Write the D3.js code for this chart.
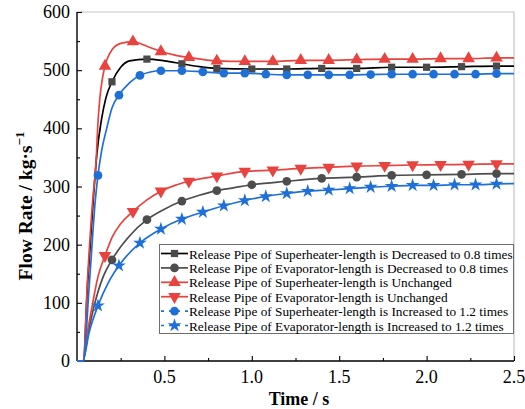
<!DOCTYPE html>
<html>
<head>
<meta charset="utf-8">
<script src="https://cdn.jsdelivr.net/npm/d3@7"></script>
<style>
    body { margin: 0; background: #fff; }
    svg { display: block; font-family: "Liberation Serif", "Times New Roman", serif; }
</style>
</head>
<body>
<svg width="525" height="409"></svg>
<script>

// time (s) and flow rate (kg/s), one pair of arrays per case
var tA = [0, 0.036, 0.06, 0.093, 0.115, 0.14, 0.165, 0.2, 0.25, 0.3, 0.4, 0.5, 0.6, 0.7, 0.8, 1.0, 1.2, 1.4, 1.6, 1.8, 2.0, 2.2, 2.4, 2.5];
var vA = [0, 0, 130, 277, 360, 415, 452, 480, 505, 516, 519, 516, 511, 506, 503, 502, 502, 503, 503, 505, 505, 506, 507, 507];

var tB = [0, 0.033, 0.065, 0.1, 0.15, 0.2, 0.3, 0.4, 0.5, 0.6, 0.7, 0.8, 0.9, 1.0, 1.2, 1.4, 1.6, 1.8, 2.0, 2.2, 2.4, 2.5];
var vB = [0, 0, 50, 97, 145, 174, 215, 243, 261, 275, 285, 293, 298, 303, 309, 314, 316, 319, 320, 321, 322, 322];

var tC = [0, 0.036, 0.06, 0.09, 0.11, 0.118, 0.13, 0.145, 0.16, 0.2, 0.25, 0.32, 0.4, 0.48, 0.56, 0.64, 0.8, 0.96, 1.12, 1.28, 1.44, 1.6, 1.76, 1.92, 2.08, 2.24, 2.4, 2.5];
var vC = [0, 0, 140, 277, 347, 400, 450, 485, 507, 535, 546, 549, 541, 532, 526, 522, 516, 515, 515, 517, 517, 518, 519, 519, 520, 520, 521, 521];

var tD = [0, 0.033, 0.06, 0.09, 0.12, 0.16, 0.2, 0.25, 0.32, 0.4, 0.48, 0.56, 0.64, 0.8, 0.96, 1.12, 1.28, 1.44, 1.6, 1.76, 1.92, 2.08, 2.24, 2.4, 2.5];
var vD = [0, 0, 50, 100, 145, 181, 212, 236, 257, 277, 292, 302, 309, 318, 326, 328, 331, 333, 335, 336, 337, 337.5, 338, 339, 339];

var tE = [0, 0.036, 0.07, 0.105, 0.12, 0.14, 0.17, 0.2, 0.24, 0.3, 0.36, 0.48, 0.6, 0.72, 0.84, 0.96, 1.08, 1.2, 1.32, 1.44, 1.56, 1.68, 1.8, 1.92, 2.04, 2.16, 2.28, 2.4, 2.5];
var vE = [0, 0, 130, 277, 319, 360, 400, 435, 457, 478, 491, 499, 499, 497, 495, 495, 493, 492, 492, 492, 492, 492.5, 493, 493, 493, 493, 493, 494, 494];

var tF = [0, 0.033, 0.07, 0.12, 0.18, 0.24, 0.36, 0.48, 0.6, 0.72, 0.84, 0.96, 1.08, 1.2, 1.32, 1.44, 1.56, 1.68, 1.8, 1.92, 2.04, 2.16, 2.28, 2.4, 2.5];
var vF = [0, 0, 50, 95, 135, 164, 203, 227, 244, 256, 267, 276, 283, 288, 292, 294, 296.5, 299, 300.5, 302, 302, 303, 303, 304.5, 305];

// times where a symbol is drawn
var markAB = [0.2, 0.4, 0.6, 0.8, 1.0, 1.2, 1.4, 1.6, 1.8, 2.0, 2.2, 2.4];
var markCD = [0.16, 0.32, 0.48, 0.64, 0.8, 0.96, 1.12, 1.28, 1.44, 1.6, 1.76, 1.92, 2.08, 2.24, 2.4];
var markEF = [0.12, 0.24, 0.36, 0.48, 0.6, 0.72, 0.84, 0.96, 1.08, 1.2, 1.32, 1.44, 1.56, 1.68, 1.8, 1.92, 2.04, 2.16, 2.28, 2.4];

var legendNames = [
    "Release Pipe of Superheater-length is Decreased to 0.8 times",
    "Release Pipe of Evaporator-length is Decreased to 0.8 times",
    "Release Pipe of Superheater-length is Unchanged",
    "Release Pipe of Evaporator-length is Unchanged",
    "Release Pipe of Superheater-length is Increased to 1.2 times",
    "Release Pipe of Evaporator-length is Increased to 1.2 times"
];

var xTicks = [0.5, 1.0, 1.5, 2.0, 2.5];
var yTicks = [0, 100, 200, 300, 400, 500, 600];

var red = "#e8433f", blue = "#1f6fd9";
var series = [
    {t: tA, v: vA, marks: markAB, line: "#000", fill: "#4a4a4a", sym: d3.symbolSquare, size: 52, rot: 0, dash: null},
    {t: tB, v: vB, marks: markAB, line: "#4d4d4d", fill: "#4d4d4d", sym: d3.symbolCircle, size: 60, rot: 0, dash: null},
    {t: tC, v: vC, marks: markCD, line: red, fill: red, sym: d3.symbolTriangle, size: 68, rot: 0, dash: null},
    {t: tD, v: vD, marks: markCD, line: red, fill: red, sym: d3.symbolTriangle, size: 68, rot: 180, dash: null},
    {t: tE, v: vE, marks: markEF, line: blue, fill: blue, sym: d3.symbolCircle, size: 60, rot: 0, dash: "3,5"},
    {t: tF, v: vF, marks: markEF, line: blue, fill: blue, sym: d3.symbolStar, size: 58, rot: 0, dash: "3,5"}
];

var svg = d3.select("svg");
var pLeft = 77, pRight = 514, pTop = 12, pBottom = 361;

var x = d3.scaleLinear().domain([0, 2.5]).range([pLeft, pRight]);
var y = d3.scaleLinear().domain([0, 600]).range([pBottom, pTop]);

// light frame on top and right
svg.append("path")
    .attr("d", "M" + pLeft + "," + pTop + "H" + pRight + "V" + pBottom)
    .attr("fill", "none")
    .attr("stroke", "#c4c4c4")
    .attr("stroke-width", 1.2);

// axes with inward ticks
var gx = svg.append("g").attr("transform", "translate(0," + pBottom + ")");
gx.append("g").call(d3.axisTop(x).tickValues(d3.range(0.25, 2.5, 0.5)).tickSize(3).tickFormat(""));
gx.append("g").call(d3.axisTop(x).tickValues(xTicks).tickSize(5).tickFormat(""));
gx.selectAll("path.domain").remove();
gx.append("line").attr("x1", pLeft).attr("x2", pRight).attr("stroke", "#000").attr("stroke-width", 1.4);

var gy = svg.append("g").attr("transform", "translate(" + pLeft + ",0)");
gy.append("g").call(d3.axisRight(y).tickValues(d3.range(50, 600, 100)).tickSize(3).tickFormat(""));
gy.append("g").call(d3.axisRight(y).tickValues(yTicks).tickSize(5).tickFormat(""));
gy.selectAll("path.domain").remove();
gy.append("line").attr("y1", pTop).attr("y2", pBottom).attr("stroke", "#000").attr("stroke-width", 1.4);
svg.selectAll(".tick line").attr("stroke", "#000").attr("stroke-width", 1.1);

// tick labels
svg.append("g").selectAll("text")
    .data(xTicks)
    .enter().append("text")
    .attr("x", function (d) { return x(d); })
    .attr("y", 383)
    .attr("text-anchor", "middle")
    .attr("font-size", 18)
    .text(function (d) { return d.toFixed(1); });

svg.append("g").selectAll("text")
    .data(yTicks)
    .enter().append("text")
    .attr("x", 70)
    .attr("y", function (d) { return y(d) + 6; })
    .attr("text-anchor", "end")
    .attr("font-size", 18)
    .text(function (d) { return d; });

// axis titles
svg.append("text")
    .attr("x", 299)
    .attr("y", 405)
    .attr("text-anchor", "middle")
    .attr("font-size", 18)
    .attr("font-weight", "bold")
    .text("Time / s");

var yt = svg.append("text")
    .attr("transform", "translate(32,206) rotate(-90)")
    .attr("text-anchor", "middle")
    .attr("font-size", 19.5)
    .attr("font-weight", "bold");
yt.append("tspan").text("Flow Rate / kg\u00b7s");
yt.append("tspan").attr("dy", -8).attr("font-size", 13).text("\u22121");

// curves
var line = d3.line()
    .x(function (d) { return x(d[0]); })
    .y(function (d) { return y(d[1]); })
    .curve(d3.curveMonotoneX);

series.forEach(function (s) {
    var pts = s.t.map(function (t, i) { return [t, s.v[i]]; });
    svg.append("path")
        .datum(pts)
        .attr("fill", "none")
        .attr("stroke", s.line)
        .attr("stroke-width", 1.7)
        .attr("d", line);

    var marked = pts.filter(function (p) {
        return s.marks.some(function (m) { return Math.abs(m - p[0]) < 1e-6; });
    });
    svg.append("g").selectAll("path")
        .data(marked)
        .enter().append("path")
        .attr("transform", function (d) {
            return "translate(" + x(d[0]) + "," + y(d[1]) + ") rotate(" + s.rot + ")";
        })
        .attr("d", d3.symbol().type(s.sym).size(s.size))
        .attr("fill", s.fill);
});

// legend
var lg = svg.append("g");
lg.append("rect")
    .attr("x", 159.5).attr("y", 244.5)
    .attr("width", 354).attr("height", 89)
    .attr("fill", "#fff")
    .attr("stroke", "#6e6e6e")
    .attr("stroke-width", 1);

var rows = lg.selectAll("g.row")
    .data(series)
    .enter().append("g")
    .attr("class", "row")
    .attr("transform", function (d, i) { return "translate(0," + (253.5 + i * 14.4) + ")"; });

rows.append("line")
    .attr("x1", 161).attr("x2", 188)
    .attr("stroke", function (d) { return d.line; })
    .attr("stroke-width", 1.7)
    .attr("stroke-dasharray", function (d) { return d.dash; });

rows.append("path")
    .attr("transform", function (d) { return "translate(174.5,0) rotate(" + d.rot + ")"; })
    .attr("d", function (d) { return d3.symbol().type(d.sym).size(d.size)(); })
    .attr("fill", function (d) { return d.fill; });

rows.append("text")
    .attr("x", 189)
    .attr("y", 5)
    .attr("font-size", 13.3)
    .text(function (d, i) { return legendNames[i]; });

</script>
</body>
</html>
